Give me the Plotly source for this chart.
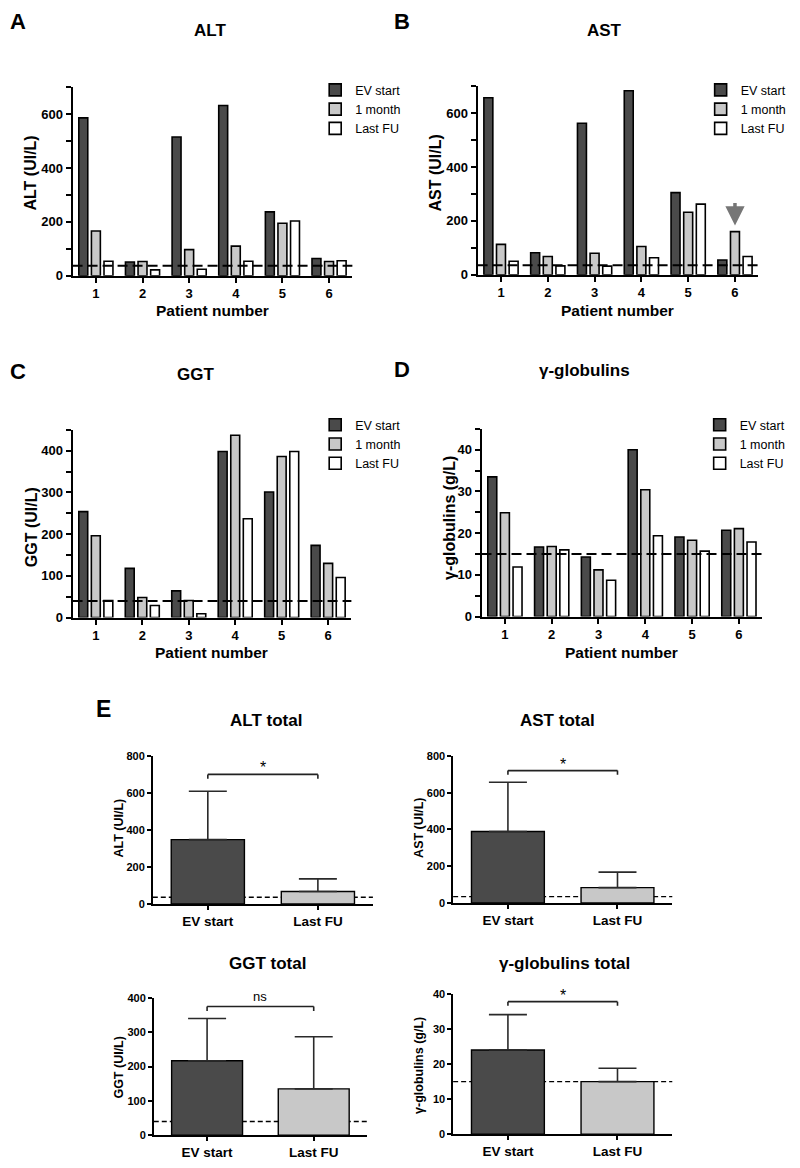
import plotly.graph_objects as go

# ---------------- data ----------------
patients = [1, 2, 3, 4, 5, 6]
series_names = ["EV start", "1 month", "Last FU"]

alt_ev = [586, 51, 515, 632, 237, 64]
alt_1m = [166, 53, 97, 110, 195, 53]
alt_fu = [54, 22, 24, 54, 203, 56]

ast_ev = [657, 82, 562, 683, 305, 55]
ast_1m = [113, 68, 80, 105, 232, 160]
ast_fu = [50, 33, 32, 63, 262, 68]

ggt_ev = [254, 118, 64, 398, 301, 173]
ggt_1m = [196, 48, 41, 437, 386, 130]
ggt_fu = [41, 29, 9, 237, 398, 96]

gam_ev = [33.5, 16.7, 14.3, 40.0, 19.1, 20.7]
gam_1m = [24.9, 16.8, 11.2, 30.4, 18.3, 21.1]
gam_fu = [11.9, 16.0, 8.7, 19.4, 15.7, 17.9]

ref_alt, ref_ast, ref_ggt, ref_gam = 37, 35, 40, 15

total_groups = ["EV start", "Last FU"]
alt_total_mean = [348, 68]
alt_total_sd = [261, 68]
ast_total_mean = [389, 84]
ast_total_sd = [268, 84]
ggt_total_mean = [217, 135]
ggt_total_sd = [123, 152]
gam_total_mean = [24.0, 15.0]
gam_total_sd = [10.1, 3.8]
significance = ["*", "*", "ns", "*"]

# ---------------- style ----------------
# The page body has an 8px margin; the figure is sized so the page fits the
# 800x1168 window exactly, and positions below are given in window pixels.
OX, OY = 8, 8
W, H = 800 - 2 * OX, 1168 - 2 * OY
FONT = "Arial, Liberation Sans, sans-serif"
COLORS = ["#4a4a4a", "#c8c8c8", "#ffffff"]


def px(x):
    return (x - OX) / W


def py(y):
    return 1 - (y - OY) / H


def dx(a, b):
    return [px(a), px(b)]


def dy(top, bot):
    return [py(bot), py(top)]


def text_ann(text, x, y, size, bold=True, angle=0, xanchor="center"):
    f = dict(size=size, family=FONT, color="black")
    if bold:
        f["weight"] = "bold"
    return dict(text=text, x=px(x), y=py(y), xref="paper", yref="paper",
                xanchor=xanchor, yanchor="middle", showarrow=False,
                textangle=angle, font=f)


fig = go.Figure()
layout = dict(width=W, height=H, margin=dict(l=0, r=0, t=0, b=0), autosize=False,
              plot_bgcolor="white", paper_bgcolor="white",
              barmode="group", bargap=0.19, bargroupgap=0.29,
              font=dict(family=FONT, color="black"), showlegend=True)
annotations = []
shapes = []

# panels A-D
panels = [
    dict(vals=[alt_ev, alt_1m, alt_fu], ref=ref_alt, x=(74, 360), y=(82, 273),
         rng=[0, 700], major=200, minor=100, ytitle="ALT (UI/L)", title="ALT",
         tx=214, ty=25, yt_x=31, yt_y=169, xt_y=308, letter="A", lx=8, ly=16,
         leg=(322, 70)),
    dict(vals=[ast_ev, ast_1m, ast_fu], ref=ref_ast, x=(488, 775), y=(81, 272),
         rng=[0, 700], major=200, minor=100, ytitle="AST (UI/L)", title="AST",
         tx=618, ty=25, yt_x=445, yt_y=169, xt_y=308, letter="B", lx=401, ly=16,
         leg=(716, 70)),
    dict(vals=[ggt_ev, ggt_1m, ggt_fu], ref=ref_ggt, x=(74, 359), y=(429, 619),
         rng=[0, 450], major=100, minor=50, ytitle="GGT (UI/L)", title="GGT",
         tx=200, ty=373, yt_x=32, yt_y=527, xt_y=654, letter="C", lx=8, ly=370,
         leg=(322, 409)),
    dict(vals=[gam_ev, gam_1m, gam_fu], ref=ref_gam, x=(492, 779), y=(428, 618),
         rng=[0, 45], major=10, minor=5, ytitle="γ-globulins (g/L)", title="γ-globulins",
         tx=597, ty=369, yt_x=460, yt_y=518, xt_y=654, letter="D", lx=401, ly=368,
         leg=(715, 409)),
]

for i, p in enumerate(panels):
    n = i + 1
    sfx = "" if n == 1 else str(n)
    xa, ya = "x" + sfx, "y" + sfx
    legname = "legend" + sfx
    for s, vals in enumerate(p["vals"]):
        fig.add_trace(go.Bar(
            x=patients, y=vals, name=series_names[s], xaxis=xa, yaxis=ya,
            marker=dict(color=COLORS[s], line=dict(color="black", width=1.6)),
            legend=legname, showlegend=True))
    layout["xaxis" + sfx] = dict(
        domain=dx(*p["x"]), anchor=ya, range=[0.5, 6.5], tickvals=patients,
        showline=True, linewidth=2, linecolor="black", ticks="outside",
        ticklen=5, tickwidth=2, tickcolor="black", showgrid=False, zeroline=False,
        tickfont=dict(size=13, family=FONT, weight="bold"))
    layout["yaxis" + sfx] = dict(
        domain=dy(*p["y"]), anchor=xa, range=p["rng"], dtick=p["major"], tick0=0,
        showline=True, linewidth=2, linecolor="black", ticks="outside",
        ticklen=5, tickwidth=2, tickcolor="black", showgrid=False, zeroline=False,
        tickfont=dict(size=13, family=FONT, weight="bold"),
        minor=dict(dtick=p["minor"], tick0=0, ticks="outside", ticklen=5,
                   tickwidth=2, tickcolor="black", showgrid=False))
    layout[legname] = dict(
        x=px(p["leg"][0]), y=py(p["leg"][1]), xanchor="left", yanchor="top",
        bgcolor="rgba(0,0,0,0)", font=dict(size=12.5, family=FONT),
        tracegroupgap=0, itemwidth=30)
    shapes.append(dict(type="line", xref=xa + " domain", yref=ya, x0=0, x1=1,
                       y0=p["ref"], y1=p["ref"], layer="above",
                       line=dict(color="black", width=2, dash="10px,5px")))
    annotations += [
        text_ann(p["title"], p["tx"], p["ty"], 17),
        text_ann(p["ytitle"], p["yt_x"], p["yt_y"], 16, angle=-90),
        text_ann("Patient number", (p["x"][0] + p["x"][1]) / 2, p["xt_y"], 15.5),
        text_ann(p["letter"], p["lx"], p["ly"], 22, xanchor="left"),
    ]

# arrow on panel B, patient 6
annotations.append(dict(x=6, y=183, ax=6, ay=272, xref="x2", yref="y2", axref="x2",
                        ayref="y2", showarrow=True, arrowhead=2, arrowsize=1.1,
                        arrowwidth=3.5, arrowcolor="#767676", text=""))

# panel E
totals = [
    dict(mean=alt_total_mean, sd=alt_total_sd, ref=ref_alt, x=(156, 381), y=(759, 909),
         rng=[0, 800], dtick=200, ytitle="ALT (UI/L)", title="ALT total", tx=272, ty=723,
         yt_x=121, yt_y=832, br=700, brt=24),
    dict(mean=ast_total_mean, sd=ast_total_sd, ref=ref_ast, x=(463, 687), y=(759, 908),
         rng=[0, 800], dtick=200, ytitle="AST (UI/L)", title="AST total", tx=570, ty=723,
         yt_x=428, yt_y=832, br=720, brt=22),
    dict(mean=ggt_total_mean, sd=ggt_total_sd, ref=ref_ggt, x=(157, 375), y=(1004, 1143),
         rng=[0, 400], dtick=100, ytitle="GGT (UI/L)", title="GGT total", tx=273, ty=969,
         yt_x=122, yt_y=1074, br=375, brt=13),
    dict(mean=gam_total_mean, sd=gam_total_sd, ref=ref_gam, x=(463, 687), y=(1000, 1142),
         rng=[0, 40], dtick=10, ytitle="γ-globulins (g/L)", title="γ-globulins total",
         tx=577, ty=969, yt_x=428, yt_y=1072, br=37.8, brt=1.2),
]

for j, t in enumerate(totals):
    n = j + 5
    xa, ya = "x%d" % n, "y%d" % n
    fig.add_trace(go.Bar(
        x=[0, 1], y=t["mean"], xaxis=xa, yaxis=ya, width=0.665, showlegend=False,
        marker=dict(color=COLORS[:2], line=dict(color="black", width=1.4)),
        error_y=dict(type="data", array=t["sd"], arrayminus=[0, 0], symmetric=False,
                     color="#2a2a2a", thickness=1.6, width=19)))
    layout["xaxis%d" % n] = dict(
        domain=dx(*t["x"]), anchor=ya, range=[-0.5, 1.5], tickvals=[0, 1],
        ticktext=total_groups, showline=True, linewidth=1.6, linecolor="black",
        ticks="outside", ticklen=4, tickwidth=1.6, tickcolor="black", showgrid=False,
        zeroline=False, tickfont=dict(size=13.5, family=FONT, weight="bold"))
    layout["yaxis%d" % n] = dict(
        domain=dy(*t["y"]), anchor=xa, range=t["rng"], dtick=t["dtick"], tick0=0,
        showline=True, linewidth=1.6, linecolor="black", ticks="outside", ticklen=4,
        tickwidth=1.6, tickcolor="black", showgrid=False, zeroline=False,
        tickfont=dict(size=11, family=FONT, weight="bold"))
    shapes.append(dict(type="line", xref=xa + " domain", yref=ya, x0=0, x1=1,
                       y0=t["ref"], y1=t["ref"], layer="below",
                       line=dict(color="black", width=1.4, dash="5px,3px")))
    # significance bracket
    for (x0, y0, x1, y1) in [(0, t["br"], 1, t["br"]), (0, t["br"], 0, t["br"] - t["brt"]),
                             (1, t["br"], 1, t["br"] - t["brt"])]:
        shapes.append(dict(type="line", xref=xa, yref=ya, x0=x0, x1=x1, y0=y0, y1=y1,
                           line=dict(color="#222", width=1.6)))
    sig = significance[j]
    annotations.append(dict(text=sig, x=0.5, y=t["br"], xref=xa, yref=ya, yanchor="bottom",
                            showarrow=False, yshift=-4 if sig == "*" else 0,
                            font=dict(size=16 if sig == "*" else 13, family=FONT)))
    annotations += [
        text_ann(t["title"], t["tx"], t["ty"], 17),
        text_ann(t["ytitle"], t["yt_x"], t["yt_y"], 12.5, angle=-90),
    ]

annotations.append(text_ann("E", 96, 712, 23, xanchor="left"))

layout["annotations"] = annotations
layout["shapes"] = shapes
fig.update_layout(**layout)
fig.write_html("out.html")
